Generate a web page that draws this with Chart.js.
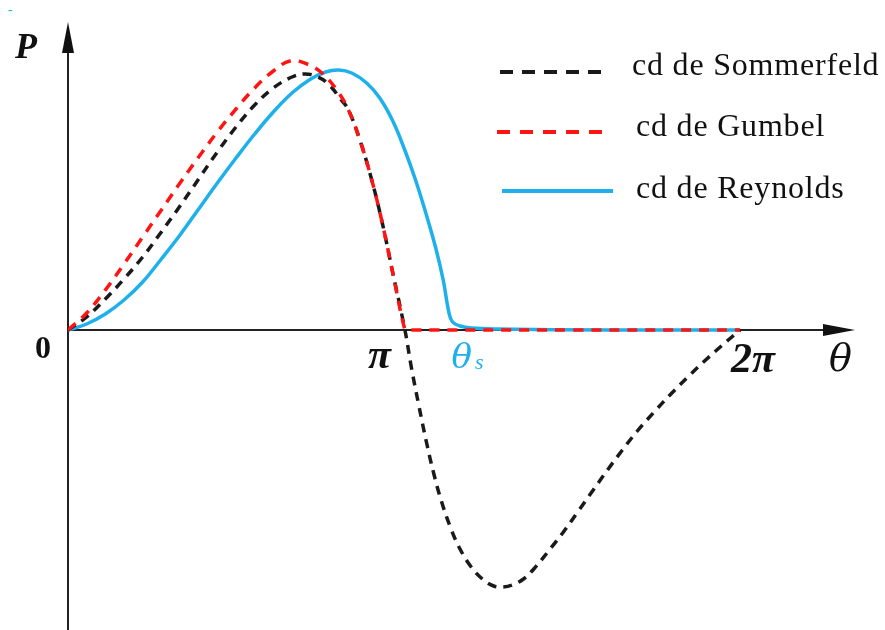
<!DOCTYPE html>
<html lang="es">
<head>
<meta charset="utf-8">
<title>Distribución de presión</title>
<script src="https://cdn.jsdelivr.net/npm/chart.js@4.4.0/dist/chart.umd.min.js"></script>
<style>
    body { margin: 0; background: #fff; }
    #wrap { width: 885px; height: 630px; position: relative; }
</style>
</head>
<body>
<div id="wrap"><canvas id="presion"></canvas></div>
<script>
// Ángulo θ en grados (0 .. 360) y presión P (unidades arbitrarias)
const sommerfeldTheta = [0, 10, 20, 30, 40, 50, 60, 70, 80, 90, 100, 110, 120, 127, 134, 140, 146, 150, 156, 162, 168, 174, 180.5,
    184, 188, 192, 196, 200, 205, 210, 216, 222, 228, 233, 238, 244, 250, 257, 265, 273, 281, 289, 297, 305, 314, 323, 332, 341, 350, 360];
const sommerfeldP = [0, 0.13, 0.31, 0.51, 0.73, 0.98, 1.24, 1.51, 1.78, 2.03, 2.25, 2.42, 2.53, 2.56, 2.53, 2.45, 2.31, 2.21, 1.92, 1.55, 1.10, 0.57, 0,
    -0.38, -0.76, -1.12, -1.44, -1.71, -1.98, -2.19, -2.37, -2.49, -2.56, -2.57, -2.55, -2.49, -2.38, -2.22, -2.03, -1.82, -1.61, -1.40, -1.20, -1.01, -0.82, -0.64, -0.47, -0.31, -0.16, 0];

const gumbelTheta = [0, 10, 20, 30, 40, 50, 60, 70, 80, 90, 100, 110, 119, 128, 136, 144, 150, 156, 162, 168, 174, 180.5, 182, 270, 360];
const gumbelP = [0, 0.17, 0.40, 0.66, 0.93, 1.20, 1.47, 1.73, 1.98, 2.21, 2.42, 2.59, 2.69, 2.66, 2.57, 2.40, 2.21, 1.92, 1.55, 1.10, 0.57, 0, 0, 0, 0];

const reynoldsTheta = [0, 10, 20, 30, 40, 50, 60, 70, 80, 90, 100, 110, 120, 130, 138, 145, 152, 160, 167, 174, 180, 186, 192, 197, 201, 204, 206, 210, 216, 230, 290, 360];
const reynoldsP = [0, 0.06, 0.16, 0.30, 0.48, 0.71, 0.95, 1.21, 1.47, 1.72, 1.96, 2.18, 2.37, 2.51, 2.58, 2.60, 2.57, 2.47, 2.32, 2.09, 1.82, 1.51, 1.15, 0.82, 0.50, 0.18, 0.08, 0.04, 0.02, 0.01, 0, 0];

// Ángulo de separación θs (grados) y marcas del eje horizontal
const thetaS = 207;
const tickPi = 180;
const tick2Pi = 360;

const serieNombres = ['cd de Sommerfeld', 'cd de Gumbel', 'cd de Reynolds'];

function puntos(xs, ys) {
    return xs.map((x, i) => ({ x: x, y: ys[i] }));
}

const NEGRO = '#1a1a1a';
const ROJO = '#ff1414';
const AZUL = '#1eb0ea';

// Ejes con flechas (por debajo de las curvas)
const ejesPlugin = {
    id: 'ejes',
    beforeDatasetsDraw(chart) {
        const { ctx, chartArea, scales } = chart;
        const x0 = scales.x.getPixelForValue(0);
        const y0 = scales.y.getPixelForValue(0);
        ctx.save();
        ctx.strokeStyle = '#222';
        ctx.fillStyle = '#111';
        ctx.lineWidth = 2;
        ctx.beginPath();
        ctx.moveTo(x0, chartArea.bottom);
        ctx.lineTo(x0, chartArea.top + 20);
        ctx.moveTo(x0, y0);
        ctx.lineTo(chartArea.right - 20, y0);
        ctx.stroke();
        // punta vertical
        ctx.beginPath();
        ctx.moveTo(x0, chartArea.top + 2);
        ctx.lineTo(x0 + 6, chartArea.top + 33);
        ctx.lineTo(x0 - 6, chartArea.top + 33);
        ctx.closePath();
        ctx.fill();
        // punta horizontal
        ctx.beginPath();
        ctx.moveTo(chartArea.right, y0);
        ctx.lineTo(chartArea.right - 32, y0 - 6);
        ctx.lineTo(chartArea.right - 32, y0 + 6);
        ctx.closePath();
        ctx.fill();
        ctx.restore();
    }
};

// Rótulos de los ejes y leyenda
const rotulosPlugin = {
    id: 'rotulos',
    afterDraw(chart) {
        const { ctx, scales } = chart;
        const serif = '"Liberation Serif", "Times New Roman", serif';
        const griega = '"DejaVu Serif", serif';
        ctx.save();
        ctx.textAlign = 'left';
        ctx.textBaseline = 'alphabetic';
        ctx.fillStyle = '#111';

        ctx.font = 'italic bold 36px ' + serif;
        ctx.fillText('P', 15, 58);
        ctx.font = 'bold 32px ' + serif;
        ctx.fillText('0', 35, 358);
        ctx.font = 'italic bold 42px ' + serif;
        ctx.fillText('π', scales.x.getPixelForValue(tickPi) - 36, 368);
        ctx.fillText('2π', scales.x.getPixelForValue(tick2Pi) - 9, 372);
        ctx.font = 'italic 38px ' + griega;
        ctx.fillText('θ', 829, 371);

        ctx.fillStyle = AZUL;
        const xs = scales.x.getPixelForValue(thetaS) - 3;
        ctx.font = 'italic 34px ' + griega;
        ctx.fillText('θ', xs, 368);
        const anchoTheta = ctx.measureText('θ').width;
        ctx.font = 'italic 22px ' + serif;
        ctx.fillText('s', xs + anchoTheta + 3, 369);
        ctx.font = '14px ' + serif;
        ctx.fillText('-', 8, 14);

        // leyenda
        const filas = [
            { y: 72, x1: 500, x2: 605, tx: 632, ty: 67 },
            { y: 132, x1: 497, x2: 602, tx: 636, ty: 128 },
            { y: 191, x1: 502, x2: 613, tx: 636, ty: 190 }
        ];
        const guiones = [[13, 9], [13, 10], []];
        chart.data.datasets.forEach((ds, i) => {
            const f = filas[i];
            ctx.strokeStyle = ds.borderColor;
            ctx.lineWidth = 4;
            ctx.setLineDash(guiones[i]);
            ctx.beginPath();
            ctx.moveTo(f.x1, f.y);
            ctx.lineTo(f.x2, f.y);
            ctx.stroke();
            ctx.setLineDash([]);
            ctx.fillStyle = '#111';
            ctx.font = '32px ' + serif;
            ctx.textBaseline = 'middle';
            ctx.letterSpacing = '0.8px';
            ctx.fillText(ds.label, f.tx, f.ty);
        });
        ctx.restore();
    }
};

const ctx = document.getElementById('presion').getContext('2d');
new Chart(ctx, {
    type: 'line',
    data: {
        datasets: [
            {
                label: serieNombres[0],
                data: puntos(sommerfeldTheta, sommerfeldP),
                borderColor: NEGRO,
                borderDash: [9, 7],
                borderWidth: 3.5,
                order: 1
            },
            {
                label: serieNombres[1],
                data: puntos(gumbelTheta, gumbelP),
                borderColor: ROJO,
                borderDash: [10, 8],
                borderWidth: 3.5,
                order: 0
            },
            {
                label: serieNombres[2],
                data: puntos(reynoldsTheta, reynoldsP),
                borderColor: AZUL,
                borderWidth: 3.5,
                order: 2
            }
        ]
    },
    options: {
        responsive: true,
        maintainAspectRatio: false,
        animation: false,
        layout: { padding: { left: 68, right: 30, top: 20, bottom: 0 } },
        elements: {
            point: { radius: 0 },
            line: { tension: 0.4, fill: false }
        },
        scales: {
            x: { type: 'linear', min: 0, max: 421.6, display: false },
            y: { min: -3.0, max: 3.1, display: false }
        },
        plugins: {
            legend: { display: false },
            tooltip: { enabled: false }
        }
    },
    plugins: [ejesPlugin, rotulosPlugin]
});
</script>
</body>
</html>
